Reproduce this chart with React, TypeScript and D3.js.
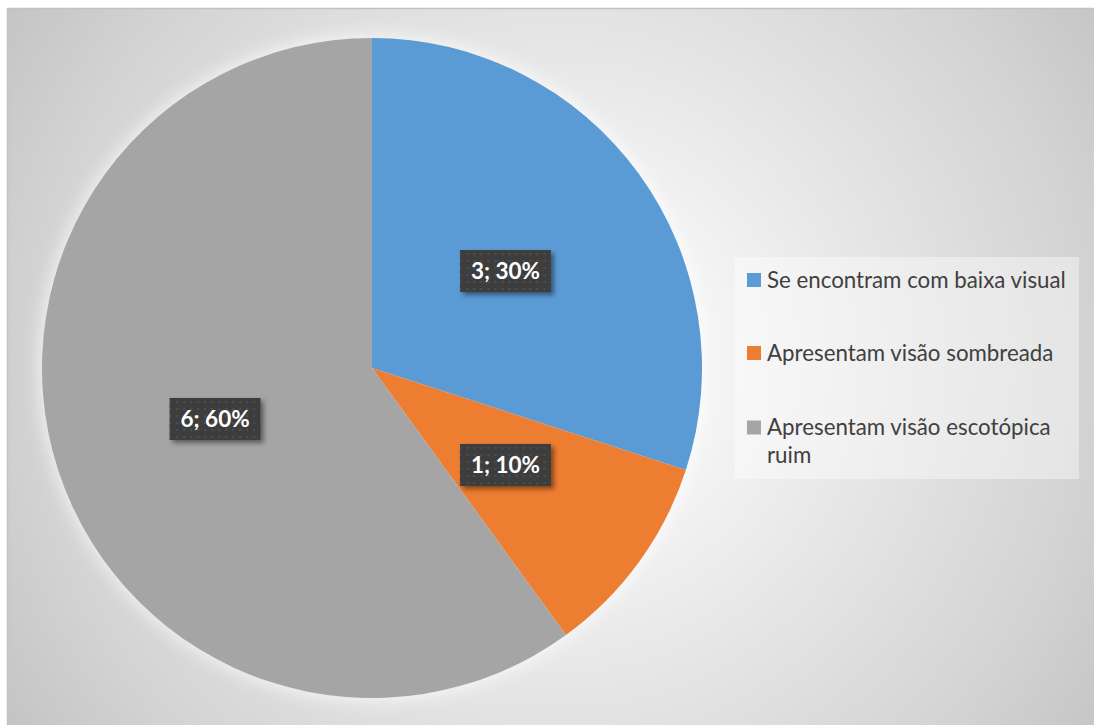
import { useEffect, useRef } from 'react';
import * as d3 from 'd3';

const categories = [
  'Se encontram com baixa visual',
  'Apresentam visão sombreada',
  'Apresentam visão escotópica ruim',
];
const values = [3, 1, 6];
const colors = ['#5B9BD5', '#ED7D31', '#A5A5A5'];

const W = 1094;
const H = 725;

export default function App() {
  const svgRef = useRef<SVGSVGElement>(null);

  useEffect(() => {
    if (!svgRef.current) return;
    const el = svgRef.current;
    d3.select(el).selectAll('*').remove();

    const svg = d3.select(el).attr('width', W).attr('height', H);
    const defs = svg.append('defs');

    // background radial gradient
    const bg = defs.append('radialGradient')
      .attr('id', 'bg')
      .attr('gradientUnits', 'userSpaceOnUse')
      .attr('cx', 560).attr('cy', 366).attr('r', 660);
    bg.append('stop').attr('offset', 0).attr('stop-color', '#ffffff');
    bg.append('stop').attr('offset', 0.25).attr('stop-color', '#f4f4f4');
    bg.append('stop').attr('offset', 0.8).attr('stop-color', '#d3d3d3');
    bg.append('stop').attr('offset', 1).attr('stop-color', '#c4c4c4');

    // dotted pattern for the data labels
    const pat = defs.append('pattern')
      .attr('id', 'dots')
      .attr('patternUnits', 'userSpaceOnUse')
      .attr('width', 7).attr('height', 7);
    pat.append('rect').attr('width', 7).attr('height', 7).attr('fill', '#3e3e3e');
    pat.append('rect').attr('x', 3).attr('y', 3).attr('width', 2).attr('height', 2).attr('fill', '#4d4d4d');

    const shadow = defs.append('filter').attr('id', 'shadow')
      .attr('x', '-20%').attr('y', '-20%').attr('width', '150%').attr('height', '160%');
    shadow.append('feDropShadow')
      .attr('dx', 3).attr('dy', 3).attr('stdDeviation', 2.5)
      .attr('flood-color', '#000').attr('flood-opacity', 0.45);

    const glow = defs.append('filter').attr('id', 'glow')
      .attr('x', '-20%').attr('y', '-20%').attr('width', '140%').attr('height', '140%');
    glow.append('feGaussianBlur').attr('stdDeviation', 8);

    // chart area
    svg.append('rect')
      .attr('x', 7.5).attr('y', 8.5)
      .attr('width', W).attr('height', H)
      .attr('fill', 'url(#bg)')
      .attr('stroke', '#c2c2c2')
      .attr('stroke-width', 1.5);

    const cx = 372;
    const cy = 368;
    const r = 330;
    const total = d3.sum(values);

    const pie = d3.pie<number>().sort(null).value((d) => d);
    const arcs = pie(values);
    const arc = d3.arc<d3.PieArcDatum<number>>().innerRadius(0).outerRadius(r);

    const g = svg.append('g').attr('transform', `translate(${cx},${cy})`);

    g.append('circle')
      .attr('r', r + 4)
      .attr('fill', '#ffffff')
      .attr('opacity', 0.6)
      .attr('filter', 'url(#glow)');

    g.selectAll('path.slice')
      .data(arcs)
      .join('path')
      .attr('class', 'slice')
      .attr('d', arc)
      .attr('fill', (_, i) => colors[i]);

    // data labels
    const labels = g.selectAll('g.lbl')
      .data(arcs)
      .join('g')
      .attr('class', 'lbl')
      .attr('transform', (d) => {
        const [x, y] = arc.centroid(d);
        return `translate(${x},${y})`;
      });

    labels.append('rect')
      .attr('x', -45.5).attr('y', -21)
      .attr('width', 91).attr('height', 42)
      .attr('fill', 'url(#dots)')
      .attr('filter', 'url(#shadow)');

    labels.append('text')
      .attr('text-anchor', 'middle')
      .attr('dy', '0.36em')
      .attr('font-family', 'Lato, "Open Sans", sans-serif')
      .attr('font-weight', 700)
      .attr('font-size', 22.5)
      .attr('fill', '#ffffff')
      .text((d) => `${d.data}; ${Math.round((d.data / total) * 100)}%`);

    // legend
    const legend = svg.append('g');
    legend.append('rect')
      .attr('x', 735).attr('y', 257)
      .attr('width', 344).attr('height', 222)
      .attr('fill', '#ffffff')
      .attr('opacity', 0.4);

    const rowY = [287.5, 360.5, 435];
    categories.forEach((name, i) => {
      const row = legend.append('g').attr('transform', `translate(747,${rowY[i]})`);
      row.append('rect')
        .attr('x', 0).attr('y', -14.5)
        .attr('width', 14).attr('height', 14)
        .attr('fill', colors[i]);
      const txt = row.append('text')
        .attr('x', 20)
        .attr('font-family', 'Lato, "Open Sans", sans-serif')
        .attr('font-size', 22.3)
        .attr('fill', '#404040');
      // wrap the last entry like the original
      const words = name.split(' ');
      if (i === 2) {
        txt.append('tspan').attr('x', 20).text(words.slice(0, -1).join(' '));
        txt.append('tspan').attr('x', 20).attr('dy', 27.7).text(words[words.length - 1]);
      } else {
        txt.text(name);
      }
    });
  }, []);

  return (
    <div style={{ position: 'fixed', left: 0, top: 0, width: W, height: H, overflow: 'hidden', background: '#fff' }}>
      <svg ref={svgRef} width={W} height={H} style={{ display: 'block' }} />
    </div>
  );
}
